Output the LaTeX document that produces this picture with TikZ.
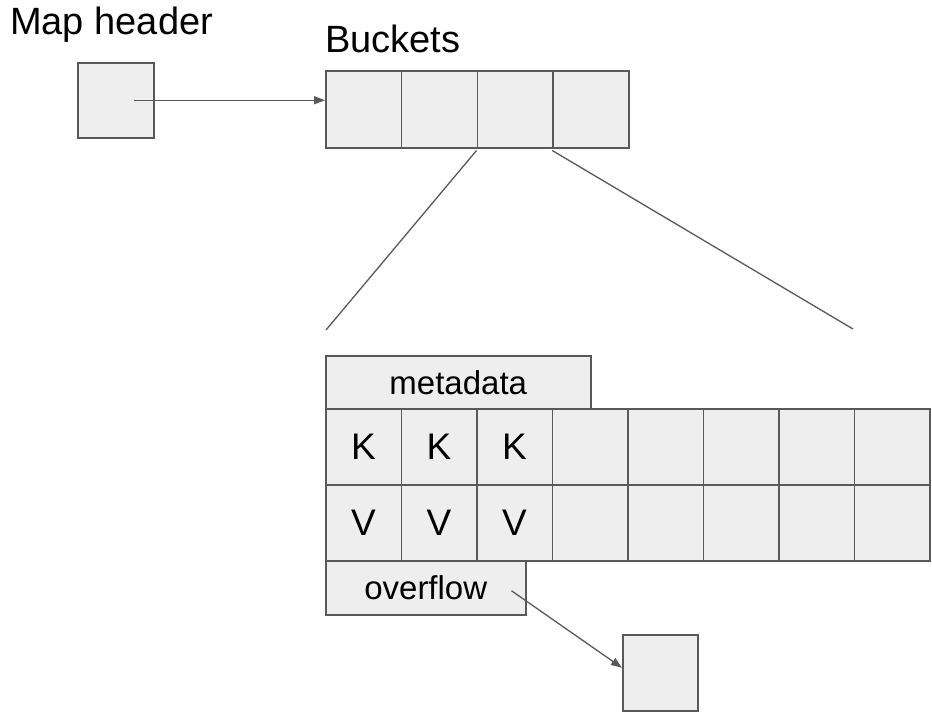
\documentclass[tikz,border=0pt]{standalone}
\usepackage{fontspec}
\setmainfont{Liberation Sans}
\usetikzlibrary{arrows.meta}
\definecolor{cellfill}{HTML}{EEEEEE}
\definecolor{cellline}{HTML}{595959}
\begin{document}
\begin{tikzpicture}[x=1pt,y=-1pt,
  cell/.style={draw=cellline,fill=cellfill,line width=1.5pt,inner sep=0pt,anchor=north west,
    font=\fontsize{33}{40}\selectfont},
  kv/.style={cell,font=\fontsize{37}{44}\selectfont},
  conn/.style={draw=cellline,line width=1.3pt},
  arr/.style={conn,-{Triangle[length=11pt,width=8pt]}},
  title/.style={anchor=base west,inner sep=0pt,font=\fontsize{38}{45}\selectfont}]
\useasboundingbox[fill=white] (0,0) rectangle (932,713);
% titles
\node[title] (tmap) at (10,34) {Map header};
\node[title] (tbuck) at (325,52) {Buckets};
% header
\node[cell,minimum width=76pt,minimum height=75pt] (hdr) at (77,62) {};
% buckets
\foreach \i in {1,...,4}{
  \node[cell,minimum width=75.75pt,minimum height=77pt] (b\i) at ({325+75.75*(\i-1)},70) {};
}
% metadata
\node[cell,minimum width=265pt,minimum height=53pt] (meta) at (325,355) {metadata};
% K and V rows
\foreach \i in {1,...,8}{
  \pgfmathsetmacro{\xx}{325+75.5*(\i-1)}
  \ifnum\i<4
    \node[kv,minimum width=75.5pt,minimum height=76pt] (k\i) at (\xx,408) {K};
    \node[kv,minimum width=75.5pt,minimum height=76pt] (v\i) at (\xx,484) {V};
  \else
    \node[kv,minimum width=75.5pt,minimum height=76pt] (k\i) at (\xx,408) {};
    \node[kv,minimum width=75.5pt,minimum height=76pt] (v\i) at (\xx,484) {};
  \fi
}
% overflow
\node[cell,minimum width=200pt,minimum height=54pt] (ovf) at (325,560) {overflow};
% overflow bucket
\node[cell,minimum width=75pt,minimum height=76pt] (ob) at (622,634) {};
% connectors
\coordinate (hs) at ([xshift=18pt]hdr.center);
\draw[arr] (hs) -- (hs -| b1.west);
\coordinate (z1) at (326,330);
\coordinate (z2) at (853,329);
\draw[conn] ([yshift=-2pt]b3.south west) -- (z1);
\draw[conn] ([yshift=-2pt]b4.south west) -- (z2);
\coordinate (os) at ([xshift=-15pt,yshift=-3pt]ovf.east);
\draw[arr] (os) -- ([yshift=5pt]ob.west);
\end{tikzpicture}
\end{document}
